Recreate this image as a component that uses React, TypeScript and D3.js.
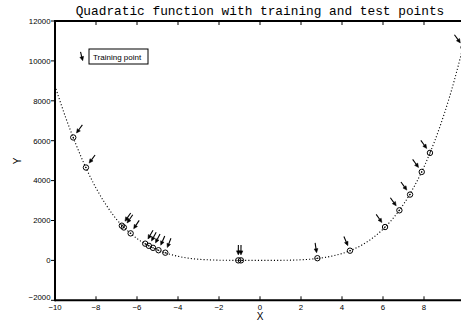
import React from "react";
import * as d3 from "d3";

const CURVE_X = [-10, -9.5, -9, -8.5, -8, -7.5, -7, -6.5, -6, -5.5, -5, -4.5, -4, -3.5, -3, -2.5, -2, -1.5, -1, -0.5, 0, 0.5, 1, 1.5, 2, 2.5, 3, 3.5, 4, 4.5, 5, 5.5, 6, 6.5, 7, 7.5, 8, 8.5, 9, 9.5, 10];
const CURVE_Y = [8740, 7220, 5870, 4660, 3630, 2770, 2060, 1520, 1095, 770, 520, 340, 205, 112, 58, 27, 11, 4, 1, 0, 0, 1, 3, 12, 30, 64, 125, 213, 345, 532, 788, 1127, 1566, 2121, 2814, 3664, 4692, 5925, 7385, 9101, 11100];

// Training points (circled, marked with arrows)
const TRAIN_X = [-9.11, -8.49, -6.74, -6.64, -6.31, -5.6, -5.42, -5.22, -4.95, -4.62, -1.06, -0.93, 2.8, 4.39, 6.1, 6.8, 7.32, 7.89, 8.29, 9.93];
const TRAIN_Y = [6163, 4656, 1740, 1650, 1356, 839, 730, 630, 510, 387, 1, 1, 110, 487, 1673, 2511, 3300, 4435, 5389, 10680];

const X_TICKS = [-10, -8, -6, -4, -2, 0, 2, 4, 6, 8, 10];
const X_TICK_LABELS = ["−10", "−8", "−6", "−4", "−2", "0", "2", "4", "6", "8", ""];
const Y_TICKS = [-2000, 0, 2000, 4000, 6000, 8000, 10000, 12000];
const Y_TICK_LABELS = ["−2000", "0", "2000", "4000", "6000", "8000", "10000", "12000"];

const TITLE = "Quadratic function with training and test points";
const X_LABEL = "X";
const Y_LABEL = "Y";
const LEGEND_LABEL = "Training point";

const W = 461;
const H = 321;
const SANS = "'Liberation Sans', Arial, Helvetica, sans-serif";
const MONO = "'Liberation Mono', 'Courier New', monospace";

function interp(xv: number): number {
  for (let i = 0; i < CURVE_X.length - 1; i++) {
    if (xv >= CURVE_X[i] && xv <= CURVE_X[i + 1]) {
      const t = (xv - CURVE_X[i]) / (CURVE_X[i + 1] - CURVE_X[i]);
      return CURVE_Y[i] + t * (CURVE_Y[i + 1] - CURVE_Y[i]);
    }
  }
  return CURVE_Y[CURVE_Y.length - 1];
}

function arrowParts(tipX: number, tipY: number, dx: number, dy: number, len: number) {
  const headLen = 4;
  const hw = 1.9;
  const bx = tipX - dx * headLen;
  const by = tipY - dy * headLen;
  const px = -dy;
  const py = dx;
  const tailX = tipX - dx * len;
  const tailY = tipY - dy * len;
  return {
    line: `M${tailX},${tailY}L${bx},${by}`,
    head: `M${tipX},${tipY}L${bx + px * hw},${by + py * hw}L${bx - px * hw},${by - py * hw}Z`,
  };
}

export default function App() {
  const x = d3.scaleLinear().domain([-10, 10]).range([55, 465]);
  const y = d3.scaleLinear().domain([-2000, 12000]).range([300.3, 21]);

  const curvePts: [number, number][] = CURVE_X.map((v, i) => [v, CURVE_Y[i]]);
  const line = d3
    .line<[number, number]>()
    .x((d) => x(d[0]))
    .y((d) => y(d[1]))
    .curve(d3.curveCatmullRom.alpha(0.5));

  const arrows = TRAIN_X.map((xv, i) => {
    const h = 0.15;
    const s = (y(interp(xv + h)) - y(interp(xv - h))) / (x(xv + h) - x(xv - h));
    const tilt = ((36 * Math.PI) / 180) * Math.tanh(2 * Math.abs(s));
    const dx = -Math.sign(s) * Math.sin(tilt);
    const dy = Math.cos(tilt);
    const cx = x(xv);
    const cy = y(TRAIN_Y[i]);
    return arrowParts(cx - dx * 5.5, cy - dy * 5.5, dx, dy, 10);
  });

  const legTilt = (14 * Math.PI) / 180;
  const legArrow = arrowParts(82.7, 60.7, Math.sin(legTilt), Math.cos(legTilt), 9);

  return (
    <svg
      width={W}
      height={H}
      style={{ position: "fixed", left: 0, top: 0, background: "#fff" }}
    >
      <rect x={0} y={0} width={W} height={H} fill="#fff" />
      {/* title */}
      <text x={260} y={15} textAnchor="middle" fontFamily={MONO} fontSize={12.8} fill="#000">
        {TITLE}
      </text>

      {/* curve */}
      <path
        d={line(curvePts) || ""}
        fill="none"
        stroke="#000"
        strokeWidth={1.1}
        strokeDasharray="1.1 2.1"
      />

      {/* points */}
      {TRAIN_X.map((xv, i) => (
        <g key={"p" + i}>
          <circle cx={x(xv)} cy={y(TRAIN_Y[i])} r={2.7} fill="none" stroke="#000" strokeWidth={1} />
          <circle cx={x(xv)} cy={y(TRAIN_Y[i])} r={0.75} fill="#000" />
        </g>
      ))}
      {arrows.map((a, i) => (
        <g key={"a" + i}>
          <path d={a.line} stroke="#000" strokeWidth={1.1} fill="none" />
          <path d={a.head} fill="#000" stroke="#000" strokeWidth={0.5} />
        </g>
      ))}

      {/* axes lines */}
      <line x1={55} x2={W} y1={y(12000)} y2={y(12000)} stroke="#000" strokeWidth={2} />
      <line x1={55} x2={W} y1={y(-2000)} y2={y(-2000)} stroke="#000" strokeWidth={2} />
      <line x1={x(-10)} x2={x(-10)} y1={y(12000) - 1} y2={y(-2000) + 1} stroke="#000" strokeWidth={2} />

      {/* x ticks (inside, top & bottom) */}
      {X_TICKS.map((t, i) => (
        <g key={"xt" + t}>
          <line x1={x(t)} x2={x(t)} y1={y(-2000)} y2={y(-2000) - 4} stroke="#000" strokeWidth={1} />
          <line x1={x(t)} x2={x(t)} y1={y(12000)} y2={y(12000) + 4} stroke="#000" strokeWidth={1} />
          {X_TICK_LABELS[i] ? (
            <text
              x={x(t)}
              y={310}
              textAnchor="middle"
              fontFamily={SANS}
              fontSize={7.8}
              fill="#000"
            >
              {X_TICK_LABELS[i]}
            </text>
          ) : null}
        </g>
      ))}

      {/* y ticks */}
      {Y_TICKS.map((t, i) => (
        <g key={"yt" + t}>
          <line x1={x(-10) - 4} x2={x(-10)} y1={y(t)} y2={y(t)} stroke="#000" strokeWidth={1} />
          <text
            x={50.5}
            y={y(t) + 2.8 - (i === 0 ? 3 : 0)}
            textAnchor="end"
            fontFamily={SANS}
            fontSize={7.8}
            fill="#000"
          >
            {Y_TICK_LABELS[i]}
          </text>
        </g>
      ))}

      {/* axis labels */}
      <text x={260} y={320} textAnchor="middle" fontFamily={SANS} fontSize={10} fill="#000">
        {X_LABEL}
      </text>
      <text
        transform={`translate(20.5,161) rotate(-90)`}
        textAnchor="middle"
        fontFamily={SANS}
        fontSize={10}
        fill="#000"
      >
        {Y_LABEL}
      </text>

      {/* legend */}
      <rect x={89} y={49} width={59} height={15} fill="#fff" stroke="#000" strokeWidth={1} />
      <text x={93} y={59.5} fontFamily={SANS} fontSize={8} fill="#000">
        {LEGEND_LABEL}
      </text>
      <path d={legArrow.line} stroke="#000" strokeWidth={1.1} fill="none" />
      <path d={legArrow.head} fill="#000" stroke="#000" strokeWidth={0.5} />
    </svg>
  );
}
